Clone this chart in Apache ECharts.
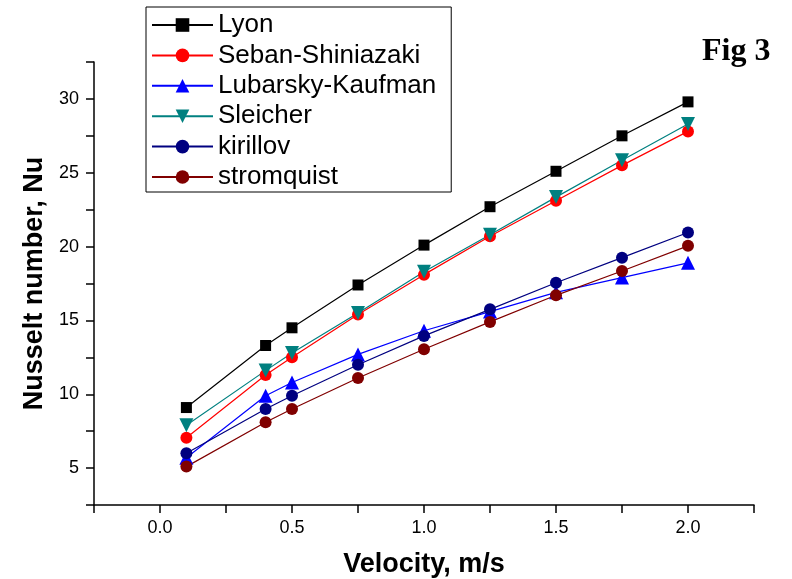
<!DOCTYPE html>
<html>
<head>
<meta charset="utf-8">
<script src="https://cdn.jsdelivr.net/npm/echarts@6/dist/echarts.min.js"></script>
<style>html,body{margin:0;padding:0;background:#fff}#c{width:792px;height:579px}</style>
</head>
<body>
<div id="c"></div>
<script>
const velocity = [0.1, 0.4, 0.5, 0.75, 1.0, 1.25, 1.5, 1.75, 2.0];
const lyon = [9.1, 13.3, 14.5, 17.4, 20.1, 22.7, 25.1, 27.5, 29.8];
const seban = [7.05, 11.3, 12.5, 15.4, 18.1, 20.7, 23.1, 25.5, 27.8];
const lubarsky = [5.7, 9.9, 10.8, 12.7, 14.3, 15.6, 16.9, 17.9, 18.9];
const sleicher = [7.9, 11.6, 12.8, 15.5, 18.3, 20.8, 23.35, 25.85, 28.3];
const kirillov = [6.0, 9.0, 9.9, 12.0, 13.95, 15.75, 17.55, 19.25, 20.95];
const stromquist = [5.1, 8.1, 9.0, 11.1, 13.05, 14.9, 16.7, 18.35, 20.05];

const seriesDefs = [
  {name: 'Lyon', data: lyon, color: '#000000', symbol: 'rect', size: 11, rotate: 0},
  {name: 'Seban-Shiniazaki', data: seban, color: '#ff0000', symbol: 'circle', size: 12, rotate: 0},
  {name: 'Lubarsky-Kaufman', data: lubarsky, color: '#0000ff', symbol: 'triangle', size: 14, rotate: 0},
  {name: 'Sleicher', data: sleicher, color: '#008080', symbol: 'triangle', size: 14, rotate: 180},
  {name: 'kirillov', data: kirillov, color: '#000080', symbol: 'circle', size: 12, rotate: 0},
  {name: 'stromquist', data: stromquist, color: '#800000', symbol: 'circle', size: 12, rotate: 0}
];

const chart = echarts.init(document.getElementById('c'), null, {renderer: 'canvas'});
const axisCommon = {
  axisLine: {show: true, onZero: false, lineStyle: {color: '#000', width: 1.5}},
  axisTick: {show: true, inside: false, length: 8, lineStyle: {color: '#000', width: 1.5}},
  splitLine: {show: false},
  axisLabel: {color: '#000', fontFamily: 'Liberation Sans, Arial', fontSize: 18},
  nameTextStyle: {color: '#000', fontFamily: 'Liberation Sans, Arial', fontSize: 27, fontWeight: 'bold'}
};
chart.setOption({
  animation: false,
  backgroundColor: '#fff',
  grid: {left: 94, right: 38, top: 62, bottom: 74, containLabel: false, outerBoundsMode: 'none'},
  xAxis: Object.assign({}, axisCommon, {
    type: 'value', min: -0.25, max: 2.25, interval: 0.25,
    name: 'Velocity, m/s', nameLocation: 'middle', nameGap: 46,
    axisLabel: Object.assign({}, axisCommon.axisLabel, {
      margin: 14,
      formatter: v => (Math.abs(Math.round(v * 2) - v * 2) < 1e-6 ? v.toFixed(1) : '')
    })
  }),
  yAxis: Object.assign({}, axisCommon, {
    type: 'value', min: 2.5, max: 32.5, interval: 2.5,
    name: 'Nusselt number, Nu', nameLocation: 'middle', nameGap: 46, nameRotate: 90,
    axisLabel: Object.assign({}, axisCommon.axisLabel, {
      margin: 15,
      formatter: v => (Math.abs(Math.round(v / 5) * 5 - v) < 1e-6 ? String(v) : '')
    })
  }),
  legend: {
    orient: 'vertical', left: 146, top: 7,
    padding: [3, 15, 0, 5],
    itemWidth: 61, itemHeight: 17, itemGap: 0.4,
    borderColor: '#000', borderWidth: 1, backgroundColor: '#fff',
    textStyle: {color: '#000', fontFamily: 'Liberation Sans, Arial', fontSize: 26, lineHeight: 30},
    data: seriesDefs.map(s => s.name)
  },
  graphic: [{
    type: 'text', left: 702, top: 36,
    style: {text: 'Fig 3', fill: '#000', font: 'bold 32px "Liberation Serif", "DejaVu Serif", serif'}
  }],
  series: seriesDefs.map(s => ({
    name: s.name, type: 'line',
    data: velocity.map((x, i) => [x, s.data[i]]),
    symbol: s.symbol, symbolSize: s.size, symbolRotate: s.rotate,
    showAllSymbol: true,
    lineStyle: {color: s.color, width: 1.2},
    itemStyle: {color: s.color},
    emphasis: {disabled: true}
  }))
});
</script>
</body>
</html>
